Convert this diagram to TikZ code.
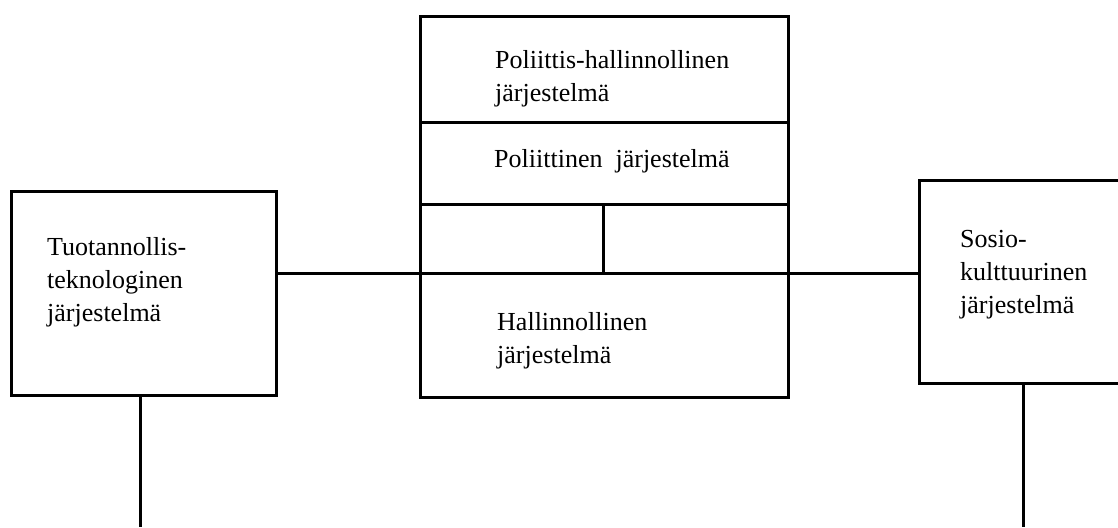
\documentclass[tikz,border=0pt]{standalone}
\usepackage{fontspec}
\setmainfont{Liberation Serif}
\begin{document}
\begin{tikzpicture}[x=1pt,y=-1pt,
  box/.style={draw, line width=3pt, rectangle, inner sep=0pt, anchor=north west},
  link/.style={line width=3pt},
  label/.style={anchor=base west, inner sep=0pt, align=left,
    font=\fontsize{26}{33}\selectfont}]
  \useasboundingbox (0,0) rectangle (1118,527);
  \clip (0,0) rectangle (1118,527);

  % the three systems
  \node[box, minimum width=265pt, minimum height=204pt] (tek) at (10,190) {};
  \node[box, minimum width=368pt, minimum height=381pt] (pol) at (419,15) {};
  \node[box, minimum width=210pt, minimum height=203pt] (sos) at (918,179) {};

  % divisions inside the central box
  \coordinate (d1) at (419,122);
  \coordinate (d2) at (419,204);
  \coordinate (d3) at (419,273);
  \coordinate (dm) at (603,204);
  \draw[link] (d1) -- (d1 -| pol.east);
  \draw[link] (d2) -- (d2 -| pol.east);
  \draw[link] (d3) -- (d3 -| pol.east);
  \draw[link] (dm) -- (dm |- d3);

  % connectors
  \draw[link] (d3) -- (d3 -| tek.east);
  \draw[link] (d3 -| pol.east) -- (d3 -| sos.west);
  \coordinate (bl) at (140,527);
  \coordinate (br) at (1023,527);
  \draw[link] (bl |- tek.south) -- (bl);
  \draw[link] (br |- sos.south) -- (br);

  % texts (anchored at the baseline of their last line)
  \node[label] (t1) at (47,321) {Tuotannollis-\\teknologinen\\järjestelmä};
  \node[label] (t2) at (495,101) {Poliittis-hallinnollinen\\järjestelmä};
  \node[label] (t3) at (494,167) {Poliittinen\ \ järjestelmä};
  \node[label] (t4) at (497,363) {Hallinnollinen\\järjestelmä};
  \node[label] (t5) at (960,313) {Sosio-\\kulttuurinen\\järjestelmä};
\end{tikzpicture}
\end{document}
